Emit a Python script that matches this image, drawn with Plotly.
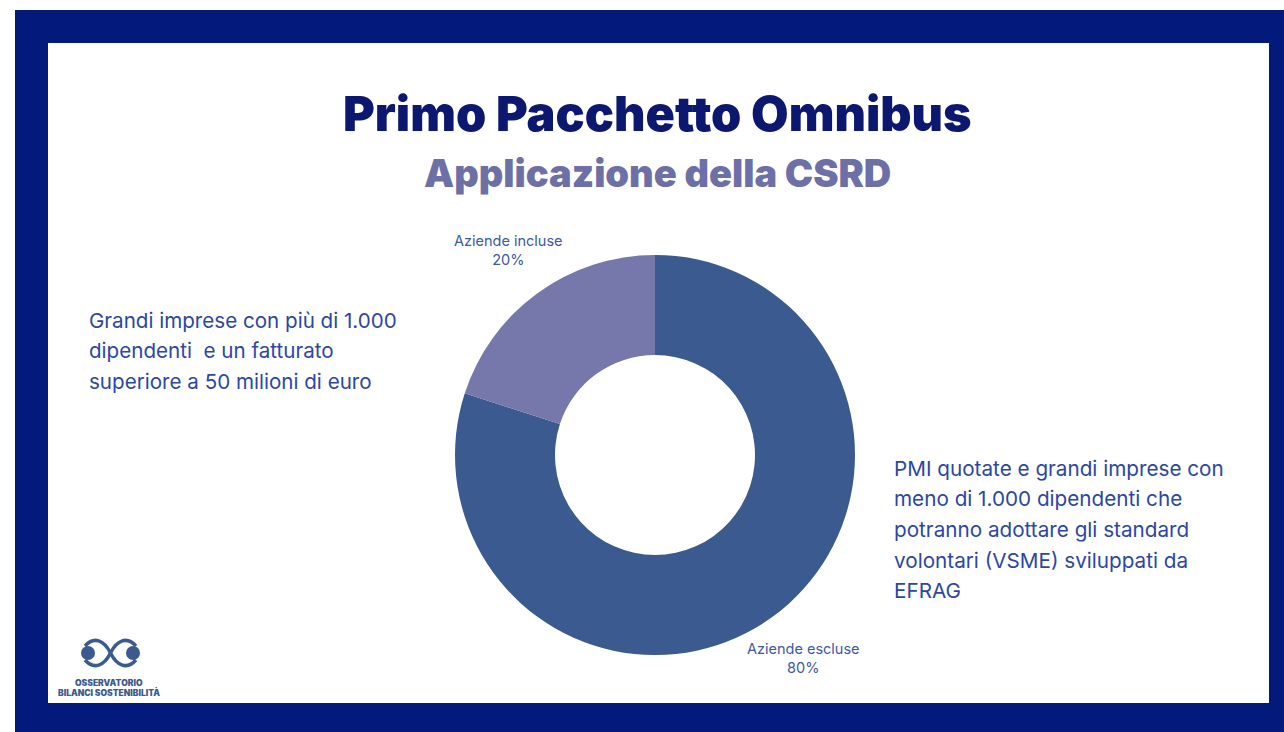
import plotly.graph_objects as go

# Data
categories = ["Aziende escluse", "Aziende incluse"]
shares = [80, 20]
slice_colors = ["#3b5a8f", "#7678ab"]

title = "Primo Pacchetto Omnibus"
subtitle = "Applicazione della CSRD"
left_note = ["Grandi imprese con più di 1.000", "dipendenti  e un fatturato", "superiore a 50 milioni di euro"]
right_note = ["PMI quotate e grandi imprese con", "meno di 1.000 dipendenti che",
              "potranno adottare gli standard", "volontari (VSME) sviluppati da", "EFRAG"]
logo_lines = ["OSSERVATORIO", "BILANCI SOSTENIBILITÀ"]

W, H = 1284, 732
NAVY = "#031a7c"


def px(x):
    return x / W


def py(y):
    return 1 - y / H


fig = go.Figure()

# Donut
cx, cy, r = 655, 455, 200
fig.add_trace(go.Pie(
    labels=categories, values=shares, hole=0.5, sort=False,
    direction="clockwise", rotation=0,
    marker=dict(colors=slice_colors, line=dict(width=0)),
    textinfo="none", hoverinfo="label+percent", showlegend=False,
    domain=dict(x=[px(cx - r), px(cx + r)], y=[py(cy + r), py(cy - r)]),
))

# Slice labels
label_pos = {"Aziende escluse": (803, 658), "Aziende incluse": (508, 250)}
for name, val in zip(categories, shares):
    lx, ly = label_pos[name]
    fig.add_annotation(x=px(lx), y=py(ly), xref="paper", yref="paper",
                       text=f"{name}<br>{val}%", showarrow=False,
                       xanchor="center", yanchor="middle", align="center",
                       font=dict(family="Inter", size=14.5, color="#3d58a2"))

# Frame
shapes = [
    dict(type="rect", xref="paper", yref="paper", x0=px(15), x1=1, y0=0, y1=py(10),
         fillcolor=NAVY, line=dict(width=0), layer="below"),
    dict(type="rect", xref="paper", yref="paper", x0=px(48), x1=px(1269), y0=py(703), y1=py(43),
         fillcolor="white", line=dict(width=0), layer="below"),
]

# Logo mark
lc = "#3b5a8f"
shapes += [
    dict(type="circle", xref="paper", yref="paper", x0=px(81), x1=px(95), y0=py(660), y1=py(646),
         fillcolor=lc, line=dict(width=0)),
    dict(type="circle", xref="paper", yref="paper", x0=px(126), x1=px(140), y0=py(660), y1=py(646),
         fillcolor=lc, line=dict(width=0)),
]
for p in [
    [(85, 646), (94, 636), (104, 640), (110.5, 653), (117, 666), (127, 670), (136, 660)],
    [(85, 660), (94, 670), (104, 666), (110.5, 653), (117, 640), (127, 636), (136, 646)],
]:
    d = (f"M {px(p[0][0])},{py(p[0][1])} C {px(p[1][0])},{py(p[1][1])} {px(p[2][0])},{py(p[2][1])} "
         f"{px(p[3][0])},{py(p[3][1])} C {px(p[4][0])},{py(p[4][1])} {px(p[5][0])},{py(p[5][1])} "
         f"{px(p[6][0])},{py(p[6][1])}")
    shapes.append(dict(type="path", xref="paper", yref="paper", path=d,
                       line=dict(color=lc, width=3.5)))

fig.update_layout(shapes=shapes)

# Titles
fig.add_annotation(x=px(657), y=py(113), xref="paper", yref="paper", text=title,
                   showarrow=False, xanchor="center", yanchor="middle",
                   font=dict(family="Inter", size=48.5, weight=900, color="#0c1870"))
fig.add_annotation(x=px(657), y=py(173), xref="paper", yref="paper", text=subtitle,
                   showarrow=False, xanchor="center", yanchor="middle",
                   font=dict(family="Inter", size=38, weight=900, color="#6c70a6"))

# Side notes
for i, line in enumerate(left_note):
    fig.add_annotation(x=px(87), y=py(320 + i * 30.5), xref="paper", yref="paper", text=line,
                       showarrow=False, xanchor="left", yanchor="middle",
                       font=dict(family="Inter", size=20.6, color="#2c47a3"))
for i, line in enumerate(right_note):
    fig.add_annotation(x=px(892), y=py(468 + i * 30.7), xref="paper", yref="paper", text=line,
                       showarrow=False, xanchor="left", yanchor="middle",
                       font=dict(family="Inter", size=20.7, color="#2c47a3"))

# Logo wordmark
for i, line in enumerate(logo_lines):
    fig.add_annotation(x=px(109), y=py(683 + i * 9.5), xref="paper", yref="paper", text=line,
                       showarrow=False, xanchor="center", yanchor="middle",
                       font=dict(family="Inter", size=8.5, weight=900, color="#3b5a8f"))

fig.update_layout(
    width=W, height=H, margin=dict(l=0, r=0, t=0, b=0),
    paper_bgcolor="white", plot_bgcolor="white",
)

fig.write_html("out.html")
